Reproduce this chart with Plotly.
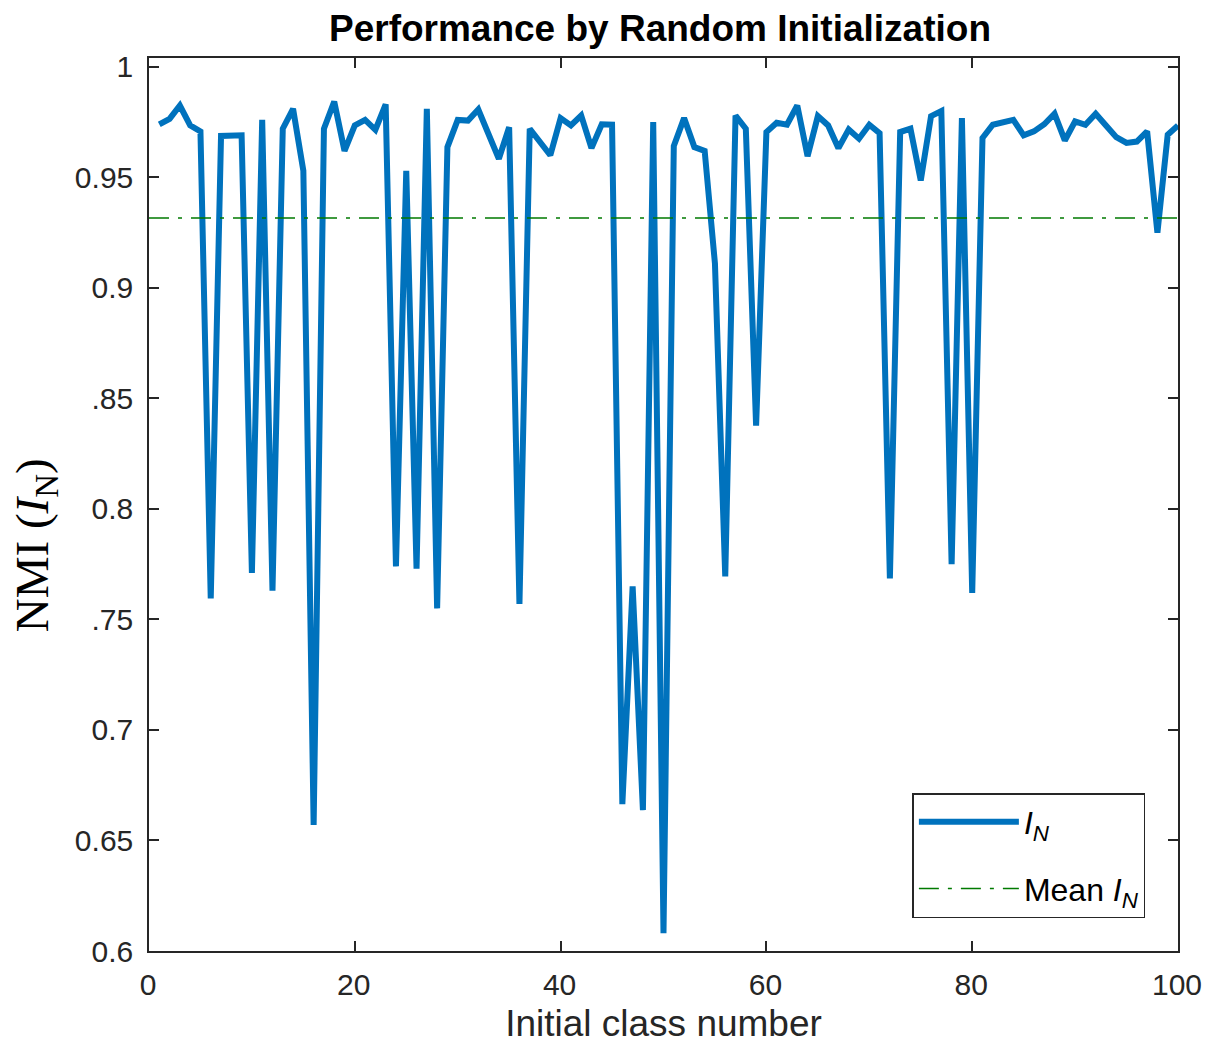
import numpy as np
import plotly.graph_objects as go

class_number = list(range(1, 101))
nmi = [
    0.974, 0.9765, 0.9825, 0.9735, 0.9708, 0.7595, 0.9687, 0.969, 0.969, 0.771,
    0.9760, 0.763, 0.972, 0.981, 0.953, 0.657, 0.972, 0.9843, 0.962, 0.9735,
    0.976, 0.9715, 0.983, 0.774, 0.953, 0.773, 0.981, 0.755, 0.9637, 0.976,
    0.9757, 0.9807, 0.969, 0.9584, 0.9727, 0.757, 0.972, 0.966, 0.960, 0.9768,
    0.9735, 0.978, 0.9632, 0.974, 0.9738, 0.6664, 0.765, 0.6637, 0.975, 0.608,
    0.9642, 0.9768, 0.9637, 0.962, 0.911, 0.7695, 0.978, 0.972, 0.8377, 0.9705,
    0.9747, 0.9738, 0.9825, 0.9596, 0.9777, 0.9735, 0.9632, 0.9717, 0.9675, 0.9738,
    0.970, 0.7686, 0.9705, 0.972, 0.9486, 0.9777, 0.980, 0.775, 0.9768, 0.762,
    0.9678, 0.9738, 0.9747, 0.976, 0.969, 0.9708, 0.974, 0.9788, 0.9667, 0.9753,
    0.9738, 0.9788, 0.9735, 0.9682, 0.9656, 0.9662, 0.9708, 0.925, 0.9693, 0.9735,
]
mean_nmi = float(np.mean(nmi))
x_limits = [0, 100]

y_tickvals = [0.6, 0.65, 0.7, 0.75, 0.8, 0.85, 0.9, 0.95, 1.0]
y_ticktext = ["0.6", "0.65", "0.7", ".75", "0.8", ".85", "0.9", "0.95", "1"]
x_tickvals = [0, 20, 40, 60, 80, 100]

SANS = "Liberation Sans, Arial, Helvetica"

fig = go.Figure()
fig.add_trace(go.Scatter(
    x=class_number, y=nmi, mode="lines",
    line=dict(color="#0072BD", width=6),
    name="<i>I</i><sub><i>N</i></sub>", legendgroup="a",
))
fig.add_trace(go.Scatter(
    x=x_limits, y=[mean_nmi, mean_nmi], mode="lines",
    line=dict(color="#007A00", width=1.5, dash="20px,9px,4px,9px"),
    name="Mean <i>I</i><sub><i>N</i></sub>", legendgroup="b",
))

axis_common = dict(
    showline=True, linecolor="#262626", linewidth=1.5, mirror="ticks",
    ticks="inside", ticklen=10, tickwidth=1.5, tickcolor="#262626",
    showgrid=False, zeroline=False, ticklabeloverflow="allow",
    tickfont=dict(family=SANS, size=30, color="#262626"),
)

# page body has an 8px margin; figure fills the rest of the 1222x1057 window
OFF = 8
W, H = 1222 - 2 * OFF, 1057 - 2 * OFF
L, R, T, B = 149 - OFF, 1222 - OFF - 1190, 58 - OFF, 1057 - OFF - 953
fig.update_xaxes(
    range=x_limits, tickvals=x_tickvals,
    title=dict(text="Initial class number", standoff=10,
               font=dict(family=SANS, size=37, color="#262626")),
    ticklabelstandoff=6, ticklabelshift=-1,
    **axis_common,
)
fig.update_yaxes(
    range=[0.6, 1.004], tickvals=y_tickvals, ticktext=y_ticktext,
    ticklabelstandoff=8,
    **axis_common,
)

plot_w = W - L - R
plot_h = H - T - B
fig.add_annotation(
    text="NMI (<i>I</i><sub>N</sub>)", textangle=-90,
    xref="paper", yref="paper",
    x=(35 - 149) / plot_w, y=(953 - 546) / plot_h,
    xanchor="center", yanchor="middle", showarrow=False,
    font=dict(family="Liberation Serif, Times New Roman, serif", size=47, color="black"),
)

fig.update_layout(
    width=W, height=H,
    margin=dict(l=L, r=R, t=T, b=B),
    paper_bgcolor="white", plot_bgcolor="white",
    title=dict(text="<b>Performance by Random Initialization</b>",
               x=(660 - OFF) / W, xanchor="center", y=1 - (28 - OFF) / H, yanchor="middle",
               font=dict(family=SANS, size=37, color="black")),
    legend=dict(
        x=(1157 - 149) / plot_w, y=(953 - 920) / plot_h, xanchor="right", yanchor="bottom",
        bgcolor="white", bordercolor="#262626", borderwidth=1.5,
        font=dict(family=SANS, size=32, color="black"),
        itemwidth=100, tracegroupgap=22,
    ),
    showlegend=True,
)

fig.write_html("out.html", config={"displayModeBar": False})
